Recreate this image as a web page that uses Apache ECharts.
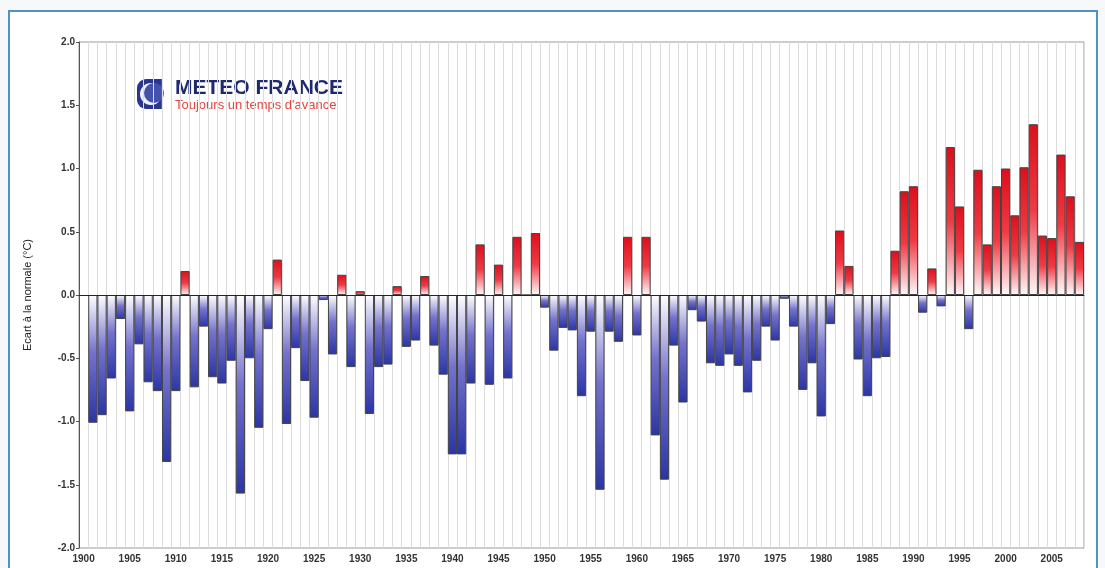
<!DOCTYPE html>
<html>
<head>
<meta charset="utf-8">
<script src="https://cdn.jsdelivr.net/npm/echarts@6/dist/echarts.min.js"></script>
<style>
  html, body { margin: 0; padding: 0; background: #f6f8f9; }
  #chart { width: 1105px; height: 568px; }
</style>
</head>
<body>
<div id="chart"></div>
<script>
// axis starts at 1900, the first bar is 1901
const axisStartYear = 1900
const years = []
for (let y = 1901; y <= 2008; y++) years.push(y)

// écart à la normale (°C), 1901 → 2008
const anomalies = [
  -1.01, -0.95, -0.66, -0.19, -0.92, -0.39, -0.69, -0.76, -1.32, -0.76, // 1901-1910
   0.19, -0.73, -0.25, -0.65, -0.70, -0.52, -1.57, -0.50, -1.05, -0.27, // 1911-1920
   0.28, -1.02, -0.42, -0.68, -0.97, -0.04, -0.47,  0.16, -0.57,  0.03, // 1921-1930
  -0.94, -0.57, -0.55,  0.07, -0.41, -0.36,  0.15, -0.40, -0.63, -1.26, // 1931-1940
  -1.26, -0.70,  0.40, -0.71,  0.24, -0.66,  0.46,  0.00,  0.49, -0.10, // 1941-1950
  -0.44, -0.26, -0.28, -0.80, -0.29, -1.54, -0.29, -0.37,  0.46, -0.32, // 1951-1960
   0.46, -1.11, -1.46, -0.40, -0.85, -0.12, -0.21, -0.54, -0.56, -0.47, // 1961-1970
  -0.56, -0.77, -0.52, -0.25, -0.36, -0.03, -0.25, -0.75, -0.54, -0.96, // 1971-1980
  -0.23,  0.51,  0.23, -0.51, -0.80, -0.50, -0.49,  0.35,  0.82,  0.86, // 1981-1990
  -0.14,  0.21, -0.09,  1.17,  0.70, -0.27,  0.99,  0.40,  0.86,  1.00, // 1991-2000
   0.63,  1.01,  1.35,  0.47,  0.45,  1.11,  0.78,  0.42              // 2001-2008
]

const yTicks = [-2.0, -1.5, -1.0, -0.5, 0.0, 0.5, 1.0, 1.5, 2.0]

const warmGrad = new echarts.graphic.LinearGradient(0, 0, 0, 1, [
  { offset: 0, color: '#dc0f1c' },
  { offset: 0.5, color: '#ef3a44' },
  { offset: 1, color: '#fffafa' }
])
const coldGrad = new echarts.graphic.LinearGradient(0, 0, 0, 1, [
  { offset: 0, color: '#ffffff' },
  { offset: 0.45, color: '#7472cc' },
  { offset: 1, color: '#2a35a6' }
])

const categories = [String(axisStartYear)].concat(years.map(String))
const barData = [null].concat(anomalies.map(v => ({
  value: v,
  itemStyle: { color: v >= 0 ? warmGrad : coldGrad }
})))

const chart = echarts.init(document.getElementById('chart'))

chart.setOption({
  animation: false,
  backgroundColor: '#f6f8f9',
  textStyle: { fontFamily: 'Liberation Sans, Arial, sans-serif' },
  graphic: [
    {
      type: 'rect',
      shape: { x: 9, y: 11, width: 1088, height: 580 },
      style: { fill: '#ffffff', stroke: '#4d93c4', lineWidth: 2 },
      z: -10
    },
    // logo
    {
      type: 'group',
      left: 124,
      top: 66,
      z: 100,
      children: [
        { type: 'rect', shape: { x: 0, y: 0, width: 232, height: 58 }, style: { fill: 'rgba(255,255,255,0.85)' } },
        { type: 'rect', shape: { x: 13, y: 13, width: 26, height: 30, r: [9, 0, 0, 9] }, style: { fill: '#2a3590' } },
        { type: 'circle', shape: { cx: 27, cy: 28, r: 11 }, style: { fill: '#f1f3fb' } },
        { type: 'circle', shape: { cx: 30, cy: 27, r: 10 }, style: { fill: '#4452ad' } },
        { type: 'rect', shape: { x: 37, y: 13, width: 2, height: 30 }, style: { fill: '#e04a4a', opacity: 0.6 } },
        {
          type: 'text', x: 51, y: 12,
          style: { text: 'METEO FRANCE', fill: '#1f2a6e', font: 'bold 21px "Liberation Sans", Arial, sans-serif' }
        },
        {
          type: 'text', x: 51, y: 33,
          style: { text: "Toujours un temps d'avance", fill: '#e2463e', font: '13px "Liberation Sans", Arial, sans-serif' }
        }
      ]
    }
  ],
  grid: {
    left: 79,
    right: 21,
    top: 42,
    bottom: 20,
    show: true,
    borderColor: '#9a9a9a',
    borderWidth: 1
  },
  xAxis: {
    type: 'category',
    data: categories,
    boundaryGap: true,
    axisLine: { lineStyle: { color: '#555', width: 1 } },
    axisTick: { show: false },
    axisLabel: {
      interval: 4,
      color: '#333',
      fontSize: 10,
      fontWeight: 'bold',
      margin: 6
    },
    splitLine: { show: true, interval: 0, lineStyle: { color: '#dcdcdc', width: 1 } }
  },
  yAxis: {
    type: 'value',
    min: -2,
    max: 2,
    interval: 0.5,
    name: 'Ecart à la normale (°C)',
    nameLocation: 'middle',
    nameGap: 46,
    nameTextStyle: { color: '#222', fontSize: 11 },
    axisLine: { show: true, lineStyle: { color: '#555', width: 1 } },
    axisTick: { show: true, length: 3, lineStyle: { color: '#555' } },
    axisLabel: {
      color: '#333',
      fontSize: 10,
      fontWeight: 'bold',
      margin: 4,
      formatter: (val) => {
        const t = yTicks.find(v => Math.abs(v - val) < 1e-6)
        return t === undefined ? '' : t.toFixed(1)
      }
    },
    splitLine: { show: false }
  },
  series: [
    {
      type: 'bar',
      data: barData,
      barCategoryGap: '0%',
      itemStyle: { borderColor: '#444', borderWidth: 1 },
      markLine: {
        silent: true,
        symbol: 'none',
        label: { show: false },
        lineStyle: { color: '#222', type: 'solid', width: 1.2 },
        data: [{ yAxis: 0 }]
      }
    }
  ]
})
</script>
</body>
</html>
